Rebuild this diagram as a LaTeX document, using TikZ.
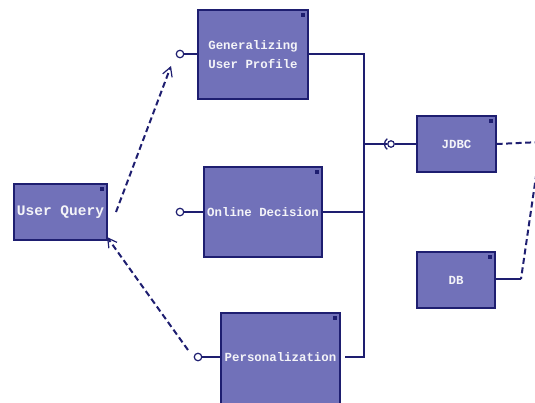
\documentclass[tikz,border=0pt]{standalone}
\usepackage{fontspec}
\setmonofont{Liberation Mono}
\usetikzlibrary{arrows.meta}
\definecolor{compfill}{HTML}{7171B9}
\definecolor{compline}{HTML}{1E1E70}
\definecolor{complabel}{HTML}{F4F4F8}
\tikzset{
  comp/.style={draw=compline, fill=compfill, line width=1.4pt, inner sep=0pt,
    text=complabel, font=\ttfamily\bfseries\fontsize{12.4}{19}\selectfont, align=center},
  wire/.style={draw=compline, line width=1.3pt},
  dashwire/.style={draw=compline, line width=2pt, dash pattern=on 6pt off 3.5pt},
  depend/.style={dashwire,
    -{Straight Barb[length=9pt,width=10pt,line width=1.2pt]}},
  lolli/.style={circle, draw=compline, fill=white, line width=1.2pt, minimum size=7.5pt, inner sep=0pt},
  mark icon/.style={fill=compline}
}
\newcommand{\compicon}[1]{\fill[mark icon] ([shift={(-8,4)}]#1.north east) rectangle ([shift={(-4,8)}]#1.north east);}
\begin{document}
\begin{tikzpicture}[x=1pt,y=-1pt]
\useasboundingbox (0,0) rectangle (535,402);
\clip (0,0) rectangle (535,402);

% components
\node[comp, font=\ttfamily\bfseries\fontsize{14.5}{16}\selectfont, minimum width=93pt, minimum height=56pt] (uq) at (60.5,212) {User Query};
\node[comp, minimum width=110pt, minimum height=89pt] (gen) at (253,54.5) {Generalizing\\User Profile};
\node[comp, minimum width=118pt, minimum height=90pt] (onl) at (263,212) {Online Decision};
\node[comp, minimum width=119pt, minimum height=100pt] (per) at (280.5,363) {};
\node[text=complabel, font=\ttfamily\bfseries\fontsize{12.4}{14}\selectfont, inner sep=0pt] (perlbl) at (280.5,357) {Personalization};
\node[comp, minimum width=79pt, minimum height=56pt] (jdbc) at (456.5,144) {JDBC};
\node[comp, minimum width=78pt, minimum height=56pt] (db) at (456,280) {DB};

\compicon{uq}
\compicon{gen}
\compicon{onl}
\compicon{per}
\compicon{jdbc}
\compicon{db}

% provided interfaces
\node[lolli] (igen) at (180,54) {};
\node[lolli] (ionl) at (180,212) {};
\node[lolli] (iper) at (198,357) {};
\draw[wire] (igen.east) -- (gen.west |- igen);
\draw[wire] (ionl.east) -- (onl.west |- ionl);
\draw[wire] (iper.east) -- (per.west |- iper);

% bus joining the components to JDBC
\coordinate (btop) at (364,54);
\coordinate (bmid) at (364,212);
\coordinate (bbot) at (364,357);
\coordinate (bjdbc) at (364,144);
\coordinate (pout) at (345,357);
\draw[wire] (gen.east |- btop) -- (btop) -- (bbot) -- (pout);
\draw[wire] (onl.east |- bmid) -- (bmid);
\node[lolli, minimum size=6.5pt] (sock) at (391,144) {};
\draw[wire] (bjdbc) -- (sock.west);
\draw[wire] (sock.east) -- (jdbc.west |- sock);
\draw[compline, line width=1.3pt] (sock.center) ++(125:6.5pt) arc[start angle=125, end angle=235, radius=6.5pt];

% dependencies
\coordinate (uqout) at (116,212);
\coordinate (genin) at (171,66);
\coordinate (perout) at (188,350);
\coordinate (uqin) at (107,237);
\draw[depend] (uqout) -- (genin);
\draw[depend] (perout) -- (uqin);

% JDBC to DB link
\coordinate (outer) at (541,142);
\coordinate (dbbend) at (521,279);
\draw[dashwire] (jdbc.east) -- (outer) -- (dbbend);
\draw[wire] (dbbend) -- (db.east |- dbbend);
\end{tikzpicture}
\end{document}
